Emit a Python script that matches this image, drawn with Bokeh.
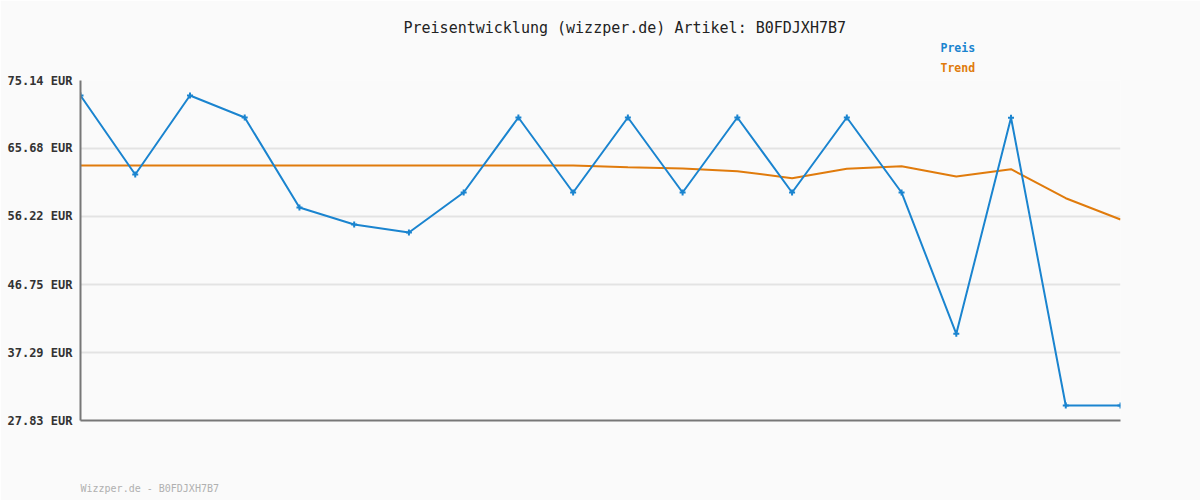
from bokeh.plotting import figure
from bokeh.models import Range1d, FixedTicker, Title
from bokeh.embed import file_html
from bokeh.resources import INLINE

# ---- data ----
idx = list(range(20))
preis = [73.05, 62.06, 73.05, 69.99, 57.47, 55.10, 53.99, 59.56, 69.99, 59.56,
         69.99, 59.56, 69.99, 59.56, 69.99, 59.56, 39.89, 69.95, 29.92, 29.92]
trend = [63.31, 63.31, 63.31, 63.31, 63.31, 63.31, 63.31, 63.31, 63.31, 63.31,
         63.08, 62.90, 62.52, 61.55, 62.85, 63.22, 61.78, 62.80, 58.76, 55.80]
y_ticks = [27.83, 37.29, 46.75, 56.22, 65.68, 75.14]
y_tick_labels = ["27.83 EUR", "37.29 EUR", "46.75 EUR", "56.22 EUR", "65.68 EUR", "75.14 EUR"]
title_text = "Preisentwicklung (wizzper.de) Artikel: B0FDJXH7B7"
footer_text = "Wizzper.de - B0FDJXH7B7"

BG = "#fafafa"
BLUE = "#1a84cf"
ORANGE = "#e07b0c"
MONO = "DejaVu Sans Mono"

p = figure(width=1200, height=500, output_backend="svg", toolbar_location=None,
           x_range=Range1d(0, 19), y_range=Range1d(27.83, 75.14),
           min_border_left=80, min_border_right=80, min_border_top=80, min_border_bottom=80)
p.background_fill_color = BG
p.border_fill_color = BG
p.outline_line_color = None

p.xgrid.visible = False
p.ygrid.grid_line_color = "#e3e3e3"
p.ygrid.grid_line_width = 2
p.yaxis.ticker = FixedTicker(ticks=y_ticks)
p.yaxis.major_label_overrides = {t: l for t, l in zip(y_ticks, y_tick_labels)}
p.yaxis.major_label_text_font = MONO
p.yaxis.major_label_text_font_style = "bold"
p.yaxis.major_label_text_font_size = "12px"
p.yaxis.major_label_text_color = "#333333"
p.yaxis.major_tick_line_color = None
p.yaxis.minor_tick_line_color = None
p.yaxis.major_tick_out = 0
p.yaxis.minor_tick_out = 0
p.yaxis.major_label_standoff = 8
p.yaxis.axis_line_color = "#777777"
p.yaxis.axis_line_width = 2

p.xaxis.ticker = FixedTicker(ticks=[])
p.xaxis.major_tick_out = 0
p.xaxis.minor_tick_out = 0
p.xaxis.axis_line_color = "#777777"
p.xaxis.axis_line_width = 2

p.line(idx, trend, line_color=ORANGE, line_width=2)
p.line(idx, preis, line_color=BLUE, line_width=2)
p.scatter(idx, preis, marker="cross", size=6, line_color=BLUE, line_width=2)

# header: stacked title panels above the frame (first added = nearest the frame)
p.add_layout(Title(text="Trend", align="left", offset=860, text_font=MONO,
                   text_font_style="bold", text_font_size="11.5px", text_color=ORANGE,
                   vertical_align="top", standoff=8), "above")
p.add_layout(Title(text="Preis", align="left", offset=860, text_font=MONO,
                   text_font_style="bold", text_font_size="11.5px", text_color=BLUE,
                   vertical_align="bottom", standoff=4), "above")
p.add_layout(Title(text=title_text, align="left", offset=323, text_font=MONO,
                   text_font_style="normal", text_font_size="15px", text_color="#222222",
                   vertical_align="bottom", standoff=0), "above")
# footer: spacer panel then the source note below the frame
p.add_layout(Title(text=" ", align="left", text_font=MONO, text_font_size="10px",
                   standoff=44), "below")
p.add_layout(Title(text=footer_text, align="left", offset=0, text_font=MONO,
                   text_font_style="normal", text_font_size="10px", text_color="#b0b0b0",
                   standoff=6), "below")

open("out.html", "w").write(file_html(p, INLINE))
